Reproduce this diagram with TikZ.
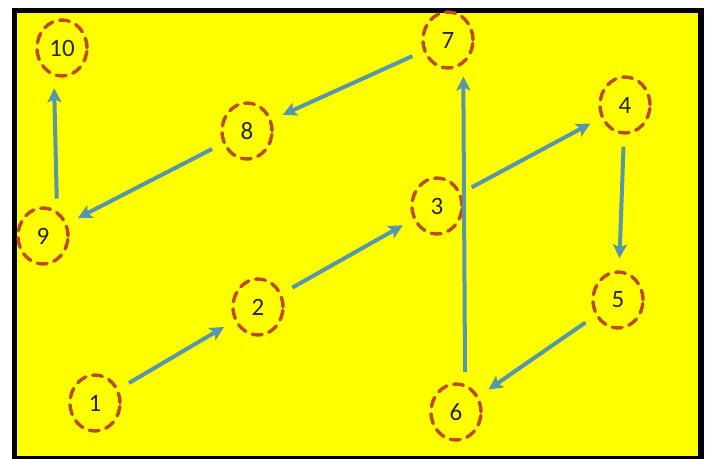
\documentclass[tikz,border=0pt]{standalone}
\usepackage{fontspec}
\setmainfont{Carlito}
\usepackage{tikz}
\usetikzlibrary{shapes, arrows.meta, positioning}

\definecolor{bgyellow}{RGB}{255,255,0}
\definecolor{ringred}{RGB}{190,75,30}
\definecolor{flowblue}{RGB}{88,150,172}

\tikzset{
    stage/.style={ellipse, draw=ringred, line width=1.7pt, dash pattern=on 5pt off 3.5pt, line cap=round,
        minimum width=25pt, minimum height=28pt, inner sep=0pt, font=\fontsize{12.5}{14}\selectfont, text=black!85},
    flow/.style={-{Stealth[length=7pt, width=7pt, inset=1.5pt]}, draw=flowblue, line width=2pt,
        shorten <=6pt, shorten >=6pt}
}

\begin{document}
\begin{tikzpicture}[x=0.5pt, y=-0.5pt]
            \useasboundingbox (0,0) rectangle (711,459);
            % Frame
            \fill[black] (12,8) rectangle (704,459);
            \fill[bgyellow] (17,13) rectangle (698,456);

            % Stages
            \foreach \n/\x/\y in {
                1/95/403,
                2/258/307,
                3/437/206,
                4/625/105,
                5/618/300,
                6/456/412,
                7/448/40,
                8/247/131,
                9/43/236,
                10/62/48
            } {
                \node[stage] (n\n) at (\x,\y) {\n};
            }

            % Arrows
            \foreach \a/\b in {1/2, 2/3, 3/4, 4/5, 5/6, 7/8, 8/9} {
                \draw[flow] (n\a) -- (n\b);
            }
            \draw[flow] (n6.72) -- (n7.-58);
            \draw[flow] (n9.61) -- (n10.-106);
        \end{tikzpicture}
\end{document}
